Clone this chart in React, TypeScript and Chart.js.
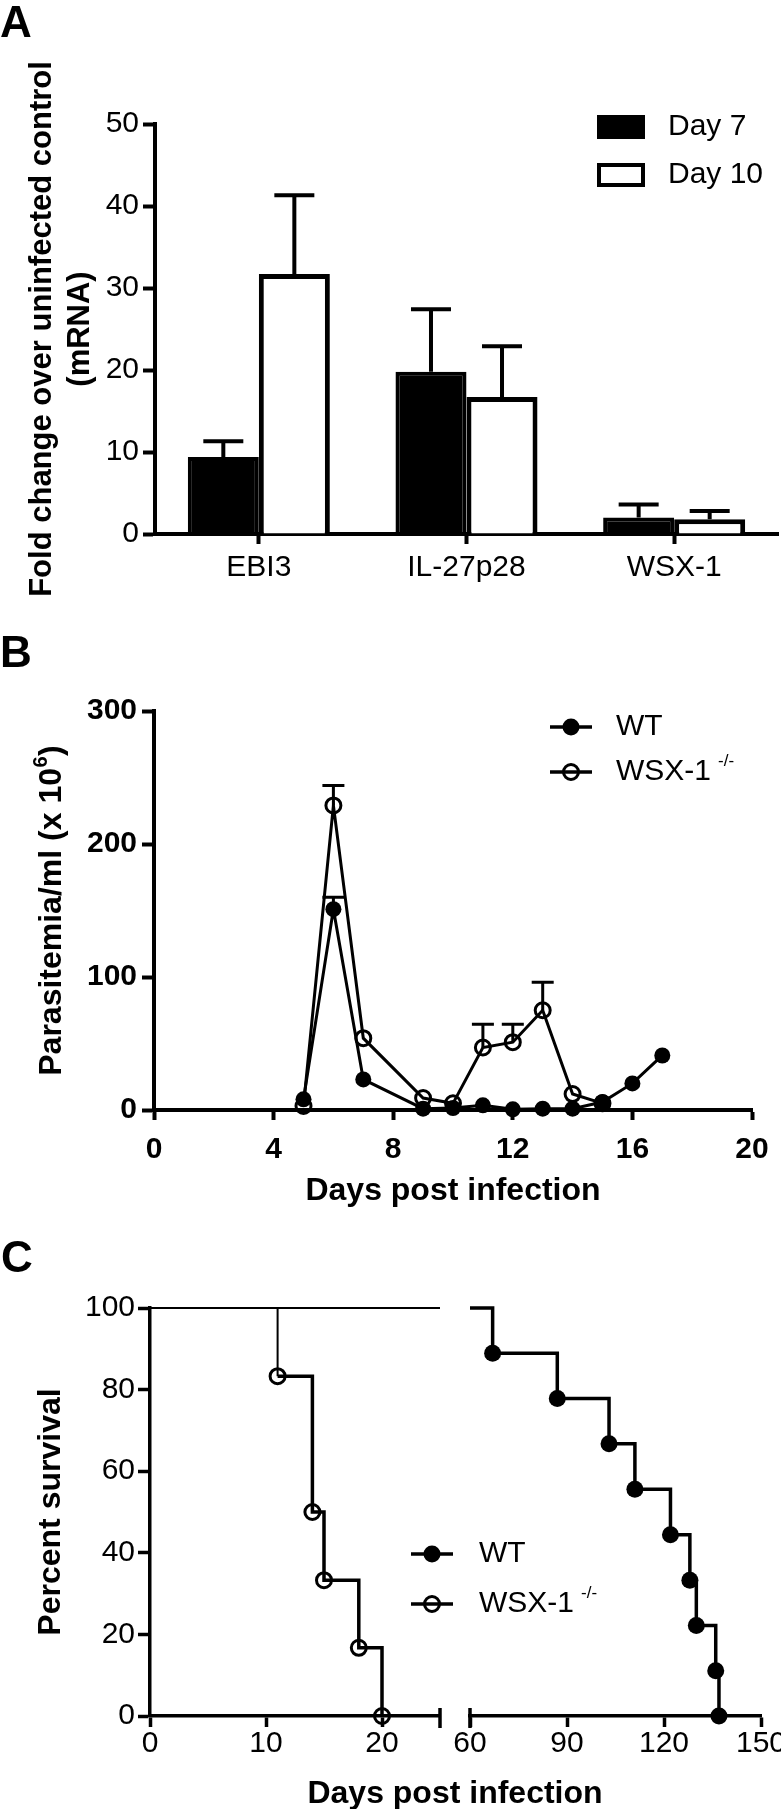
import React, { useEffect, useRef } from 'react';
import { Chart, registerables } from 'chart.js';

Chart.register(...registerables);

const FONT = "'Liberation Sans', Arial, Helvetica, sans-serif";

// ---------- Panel A data ----------
const categoriesA = ['EBI3', 'IL-27p28', 'WSX-1'];
const seriesALabels = ['Day 7', 'Day 10'];
const day7Mean = [9.4, 19.8, 2.0];
const day7Upper = [11.3, 27.4, 3.6];
const day10Mean = [31.7, 16.7, 1.8];
const day10Upper = [41.3, 22.9, 2.8];
const yTicksA = [0, 10, 20, 30, 40, 50];
const yTitleA = ['Fold change over uninfected control', '(mRNA)'];

// ---------- Panel B data ----------
const seriesLabelsBC = ['WT', 'WSX-1'];
const supLabel = '-/-';
const wtDaysB = [5, 6, 7, 9, 10, 11, 12, 13, 14, 15, 16, 17];
const wtParasitemia = [8, 151, 23, 1, 1.5, 3.5, 0.5, 1, 1, 6, 20, 41];
const wtUpperB = [null, 160, null, null, null, null, null, null, null, null, null, null];
const wsxDaysB = [5, 6, 7, 9, 10, 11, 12, 13, 14, 15];
const wsxParasitemia = [3, 229, 54, 9, 5, 47, 51, 75, 12, 5];
const wsxUpperB = [null, 244, null, null, null, 64.5, 64.5, 96, null, null];
const xTicksB = [0, 4, 8, 12, 16, 20];
const yTicksB = [0, 100, 200, 300];

// ---------- Panel C data ----------
const wtSurvDays = [0, 67, 87, 103, 111, 122, 128, 130, 136, 137];
const wtSurv = [100, 88.9, 77.8, 66.7, 55.6, 44.4, 33.3, 22.2, 11.1, 0];
const wsxSurvDays = [0, 11, 14, 15, 18, 20];
const wsxSurv = [100, 83.3, 50, 33.3, 16.7, 0];
const xTicksC1 = [0, 10, 20];
const xTicksC2 = [60, 90, 120, 150];
const yTicksC = [0, 20, 40, 60, 80, 100];
const xRangeC1 = [0, 25];
const xRangeC2 = [60, 150];

const pts = (xs: number[], ys: number[]) => xs.map((x, i) => ({ x, y: ys[i] }));

const fixW = (w: number) => (s: any) => {
  s.width = w;
  s.paddingTop = 0; s.paddingBottom = 0; s.paddingLeft = 0; s.paddingRight = 0;
};
const fixH = (h: number) => (s: any) => {
  s.height = h;
  s.paddingTop = 0; s.paddingBottom = 0; s.paddingLeft = 0; s.paddingRight = 0;
};
const setTicks = (vals: number[]) => (s: any) => {
  s.ticks = vals.map((v) => ({ value: v }));
};

const gridTicks = (len: number, w: number) => ({
  display: true,
  drawOnChartArea: false,
  drawTicks: true,
  tickLength: len,
  tickWidth: w,
  tickColor: '#000',
  offset: false,
});
const border = (w: number) => ({ display: true, width: w, color: '#000' });
const tickFont = (bold: boolean, lh = 1.2) => ({ family: FONT, size: 30, weight: bold ? 'bold' : 'normal', lineHeight: lh });

function errorBarPlugin(capWidth: number, lineWidth: number, hook: string) {
  const draw = (chart: any) => {
    const { ctx } = chart;
    const y = chart.scales.y;
    ctx.save();
    ctx.strokeStyle = '#000';
    ctx.lineWidth = lineWidth;
    ctx.lineCap = 'butt';
    chart.data.datasets.forEach((ds: any, i: number) => {
      const up = ds.errorUpper;
      if (!up) return;
      chart.getDatasetMeta(i).data.forEach((el: any, j: number) => {
        const u = up[j];
        if (u == null) return;
        const yTop = y.getPixelForValue(u);
        ctx.beginPath();
        ctx.moveTo(el.x, el.y);
        ctx.lineTo(el.x, yTop);
        ctx.moveTo(el.x - capWidth / 2, yTop);
        ctx.lineTo(el.x + capWidth / 2, yTop);
        ctx.stroke();
      });
    });
    ctx.restore();
  };
  return { id: 'errorBars_' + hook, [hook]: draw };
}

function letterPlugin(letter: string, x: number, baseline: number) {
  return {
    id: 'letter',
    afterDraw(chart: any) {
      const { ctx } = chart;
      ctx.save();
      ctx.fillStyle = '#000';
      ctx.font = `bold 44px ${FONT}`;
      ctx.textAlign = 'left';
      ctx.textBaseline = 'alphabetic';
      ctx.fillText(letter, x, baseline);
      ctx.restore();
    },
  };
}

function drawRotated(ctx: any, text: string, cx: number, cy: number, font: string) {
  ctx.save();
  ctx.translate(cx, cy);
  ctx.rotate(-Math.PI / 2);
  ctx.fillStyle = '#000';
  ctx.font = font;
  ctx.textAlign = 'center';
  ctx.textBaseline = 'middle';
  ctx.fillText(text, 0, 0);
  ctx.restore();
}

function drawMarkerLegend(ctx: any, x0: number, x1: number, y: number, filled: boolean, label: string, sup: string | null, textX: number) {
  ctx.save();
  ctx.strokeStyle = '#000';
  ctx.fillStyle = '#000';
  const cx = (x0 + x1) / 2;
  ctx.lineWidth = 3.5;
  ctx.beginPath(); ctx.moveTo(x0, y); ctx.lineTo(x1, y); ctx.stroke();
  if (filled) {
    ctx.beginPath(); ctx.arc(cx, y, 8.5, 0, Math.PI * 2); ctx.fill();
  } else {
    ctx.lineWidth = 3;
    ctx.beginPath(); ctx.arc(cx, y, 7.5, 0, Math.PI * 2); ctx.stroke();
  }
  ctx.font = `30px ${FONT}`;
  ctx.textAlign = 'left';
  ctx.textBaseline = 'middle';
  ctx.fillText(label, textX, y);
  if (sup) {
    const w = ctx.measureText(label).width;
    ctx.font = `17px ${FONT}`;
    ctx.fillText(sup, textX + w + 7, y - 11);
  }
  ctx.restore();
}

function configA(): any {
  return {
    type: 'bar',
    data: {
      labels: categoriesA,
      datasets: [
        {
          label: seriesALabels[0], data: day7Mean, errorUpper: day7Upper,
          backgroundColor: '#000', borderColor: '#000', borderWidth: 4,
          categoryPercentage: 0.684, barPercentage: 1,
        },
        {
          label: seriesALabels[1], data: day10Mean, errorUpper: day10Upper,
          backgroundColor: '#fff', borderColor: '#000', borderWidth: 5,
          categoryPercentage: 0.684, barPercentage: 1,
        },
      ],
    },
    options: {
      responsive: false, animation: false, devicePixelRatio: 1, events: [],
      layout: { padding: { left: 0, top: 124, right: 3, bottom: 0 } },
      plugins: { legend: { display: false }, tooltip: { enabled: false }, title: { display: false } },
      scales: {
        x: {
          type: 'category', offset: true,
          grid: gridTicks(10, 4), border: border(4),
          ticks: { font: tickFont(false), color: '#000', padding: 6, maxRotation: 0, autoSkip: false },
          afterFit: fixH(106),
        },
        y: {
          type: 'linear', min: 0, max: 50,
          afterBuildTicks: setTicks(yTicksA),
          grid: gridTicks(12, 4), border: border(4),
          ticks: { font: tickFont(false), color: '#000', padding: 4, callback: (v: any) => String(v) },
          afterFit: fixW(155),
        },
      },
    },
    plugins: [
      errorBarPlugin(40, 4, 'afterDatasetsDraw'),
      letterPlugin('A', 0, 37),
      {
        id: 'legendA',
        afterDraw(chart: any) {
          const { ctx, chartArea } = chart;
          const ds = chart.data.datasets;
          ctx.save();
          ctx.fillStyle = '#000';
          ctx.fillRect(597, 115, 48, 24);
          ctx.strokeStyle = '#000';
          ctx.lineWidth = 4;
          ctx.strokeRect(599, 165, 44, 20);
          ctx.font = `30px ${FONT}`;
          ctx.textAlign = 'left';
          ctx.textBaseline = 'middle';
          ctx.fillText(ds[0].label, 668, 127);
          ctx.fillText(ds[1].label, 668, 175);
          ctx.restore();
          const titleFont = `bold 31px ${FONT}`;
          const cy = (chartArea.top + chartArea.bottom) / 2;
          drawRotated(ctx, yTitleA[0], 42, cy, titleFont);
          drawRotated(ctx, yTitleA[1], 80, cy, titleFont);
        },
      },
    ],
  };
}

function configB(): any {
  return {
    type: 'line',
    data: {
      datasets: [
        {
          label: seriesLabelsBC[0], data: pts(wtDaysB, wtParasitemia), errorUpper: wtUpperB,
          borderColor: '#000', borderWidth: 3, pointRadius: 8,
          pointBackgroundColor: '#000', pointBorderColor: '#000', pointBorderWidth: 0,
          clip: { left: 12, right: 12, top: 12, bottom: 12 },
        },
        {
          label: seriesLabelsBC[1], data: pts(wsxDaysB, wsxParasitemia), errorUpper: wsxUpperB,
          borderColor: '#000', borderWidth: 3, pointRadius: 7.5,
          pointBackgroundColor: 'rgba(255,255,255,0)', pointBorderColor: '#000', pointBorderWidth: 3,
          clip: { left: 12, right: 12, top: 12, bottom: 12 },
        },
      ],
    },
    options: {
      responsive: false, animation: false, devicePixelRatio: 1, events: [],
      layout: { padding: { left: 0, top: 111, right: 29, bottom: 0 } },
      plugins: { legend: { display: false }, tooltip: { enabled: false }, title: { display: false } },
      scales: {
        x: {
          type: 'linear', min: 0, max: 20,
          afterBuildTicks: setTicks(xTicksB),
          grid: gridTicks(10, 4), border: border(4),
          ticks: { font: tickFont(true), color: '#000', padding: 12, maxRotation: 0, callback: (v: any) => String(v) },
          title: {
            display: true, text: 'Days post infection',
            font: { family: FONT, size: 32, weight: 'bold', lineHeight: 1.2 },
            color: '#000', padding: { top: 0, bottom: 0 },
          },
          afterFit: fixH(100),
        },
        y: {
          type: 'linear', min: 0, max: 300,
          afterBuildTicks: setTicks(yTicksB),
          grid: gridTicks(12, 4), border: border(4),
          ticks: { font: tickFont(true), color: '#000', padding: 5, callback: (v: any) => String(v) },
          afterFit: fixW(154),
        },
      },
    },
    plugins: [
      errorBarPlugin(22, 3, 'beforeDatasetsDraw'),
      letterPlugin('B', 0, 67),
      {
        id: 'extrasB',
        afterDraw(chart: any) {
          const { ctx, chartArea } = chart;
          const ds = chart.data.datasets;
          drawMarkerLegend(ctx, 550, 592, 127, true, ds[0].label, null, 616);
          drawMarkerLegend(ctx, 550, 592, 172, false, ds[1].label, supLabel, 616);
          // y-axis title with superscript
          ctx.save();
          ctx.translate(52, (chartArea.top + chartArea.bottom) / 2);
          ctx.rotate(-Math.PI / 2);
          ctx.fillStyle = '#000';
          ctx.textBaseline = 'middle';
          ctx.textAlign = 'left';
          const main = 'Parasitemia/ml (x 10';
          const sup = '6';
          const end = ')';
          ctx.font = `bold 32px ${FONT}`;
          const w1 = ctx.measureText(main).width;
          const w3 = ctx.measureText(end).width;
          ctx.font = `bold 20px ${FONT}`;
          const w2 = ctx.measureText(sup).width;
          const start = -(w1 + w2 + w3 + 1) / 2;
          ctx.font = `bold 32px ${FONT}`;
          ctx.fillText(main, start, 0);
          ctx.fillText(end, start + w1 + w2 + 1, 0);
          ctx.font = `bold 20px ${FONT}`;
          ctx.fillText(sup, start + w1 + 0.5, -11);
          ctx.restore();
        },
      },
    ],
  };
}

function survDatasets(wtWidth: number, thinFirstWsx: boolean): any[] {
  const common = {
    borderColor: '#000', stepped: true, pointBorderColor: '#000',
  };
  return [
    {
      ...common,
      label: seriesLabelsBC[0], data: pts(wtSurvDays, wtSurv),
      borderWidth: wtWidth, pointBackgroundColor: '#000', pointBorderWidth: 0,
      pointRadius: (c: any) => (c.dataIndex === 0 ? 0 : 8.5),
      clip: { left: 0, right: 0, top: 12, bottom: 12 },
    },
    {
      ...common,
      label: seriesLabelsBC[1], data: pts(wsxSurvDays, wsxSurv),
      borderWidth: 3.5, pointBackgroundColor: 'rgba(255,255,255,0)', pointBorderWidth: 3,
      pointRadius: (c: any) => (c.dataIndex === 0 ? 0 : 7.5),
      segment: thinFirstWsx ? { borderWidth: (c: any) => (c.p0DataIndex === 0 ? 2 : undefined) } : undefined,
      clip: { left: 0, right: 0, top: 12, bottom: 12 },
    },
  ];
}

function configC1(): any {
  return {
    type: 'line',
    data: { datasets: survDatasets(2, true) },
    options: {
      responsive: false, animation: false, devicePixelRatio: 1, events: [],
      layout: { padding: { left: 0, top: 98, right: 341, bottom: 0 } },
      plugins: { legend: { display: false }, tooltip: { enabled: false }, title: { display: false } },
      scales: {
        x: {
          type: 'linear', min: xRangeC1[0], max: xRangeC1[1],
          afterBuildTicks: setTicks(xTicksC1),
          grid: gridTicks(11, 3.5), border: border(3.5),
          ticks: { font: tickFont(false, 1.1), color: '#000', padding: 0, maxRotation: 0, callback: (v: any) => String(v) },
          afterFit: fixH(93),
        },
        y: {
          type: 'linear', min: 0, max: 100,
          afterBuildTicks: setTicks(yTicksC),
          grid: gridTicks(12, 3.5), border: border(3.5),
          ticks: { font: tickFont(false), color: '#000', padding: 3, callback: (v: any) => String(v) },
          title: {
            display: true, text: 'Percent survival',
            font: { family: FONT, size: 32, weight: 'bold', lineHeight: 1.25 },
            color: '#000', padding: { top: 31, bottom: 0 },
          },
          afterFit: fixW(150),
        },
      },
    },
    plugins: [
      letterPlugin('C', 1, 62),
      {
        id: 'extrasC1',
        afterDraw(chart: any) {
          const { ctx, chartArea } = chart;
          const ds = chart.data.datasets;
          ctx.save();
          ctx.strokeStyle = '#000';
          ctx.lineWidth = 3.5;
          ctx.beginPath();
          ctx.moveTo(chartArea.right, chartArea.bottom - 8);
          ctx.lineTo(chartArea.right, chartArea.bottom + 12);
          ctx.stroke();
          ctx.fillStyle = '#000';
          ctx.font = `bold 32px ${FONT}`;
          ctx.textAlign = 'center';
          ctx.textBaseline = 'middle';
          ctx.fillText('Days post infection', 455, 584);
          ctx.restore();
          drawMarkerLegend(ctx, 411, 453, 344, true, ds[0].label, null, 479);
          drawMarkerLegend(ctx, 411, 453, 394, false, ds[1].label, supLabel, 479);
        },
      },
    ],
  };
}

function configC2(): any {
  return {
    type: 'line',
    data: { datasets: survDatasets(3.5, false) },
    options: {
      responsive: false, animation: false, devicePixelRatio: 1, events: [],
      layout: { padding: { left: 30, top: 98, right: 59, bottom: 0 } },
      plugins: { legend: { display: false }, tooltip: { enabled: false }, title: { display: false } },
      scales: {
        x: {
          type: 'linear', min: xRangeC2[0], max: xRangeC2[1],
          afterBuildTicks: setTicks(xTicksC2),
          grid: gridTicks(11, 3.5), border: border(3.5),
          ticks: { font: tickFont(false, 1.1), color: '#000', padding: 0, maxRotation: 0, callback: (v: any) => String(v) },
          afterFit: fixH(93),
        },
        y: { type: 'linear', min: 0, max: 100, display: false },
      },
    },
    plugins: [
      {
        id: 'extrasC2',
        afterDraw(chart: any) {
          const { ctx, chartArea } = chart;
          ctx.save();
          ctx.strokeStyle = '#000';
          ctx.lineWidth = 3.5;
          ctx.beginPath();
          ctx.moveTo(chartArea.left, chartArea.bottom - 8);
          ctx.lineTo(chartArea.left, chartArea.bottom + 12);
          ctx.stroke();
          ctx.restore();
        },
      },
    ],
  };
}

export default function App() {
  const refA = useRef<HTMLCanvasElement | null>(null);
  const refB = useRef<HTMLCanvasElement | null>(null);
  const refC1 = useRef<HTMLCanvasElement | null>(null);
  const refC2 = useRef<HTMLCanvasElement | null>(null);

  useEffect(() => {
    const charts = [
      new Chart(refA.current as any, configA()),
      new Chart(refB.current as any, configB()),
      new Chart(refC1.current as any, configC1()),
      new Chart(refC2.current as any, configC2()),
    ];
    return () => charts.forEach((c) => c.destroy());
  }, []);

  return (
    <div style={{ position: 'absolute', left: 0, top: 0, width: 781, height: 1809, overflow: 'hidden', background: '#fff' }}>
      <canvas ref={refA} width={781} height={640} style={{ position: 'absolute', left: 0, top: 0 }} />
      <canvas ref={refB} width={781} height={610} style={{ position: 'absolute', left: 0, top: 600 }} />
      <canvas ref={refC1} width={781} height={599} style={{ position: 'absolute', left: 0, top: 1210 }} />
      <canvas ref={refC2} width={380} height={599} style={{ position: 'absolute', left: 440, top: 1210 }} />
    </div>
  );
}
